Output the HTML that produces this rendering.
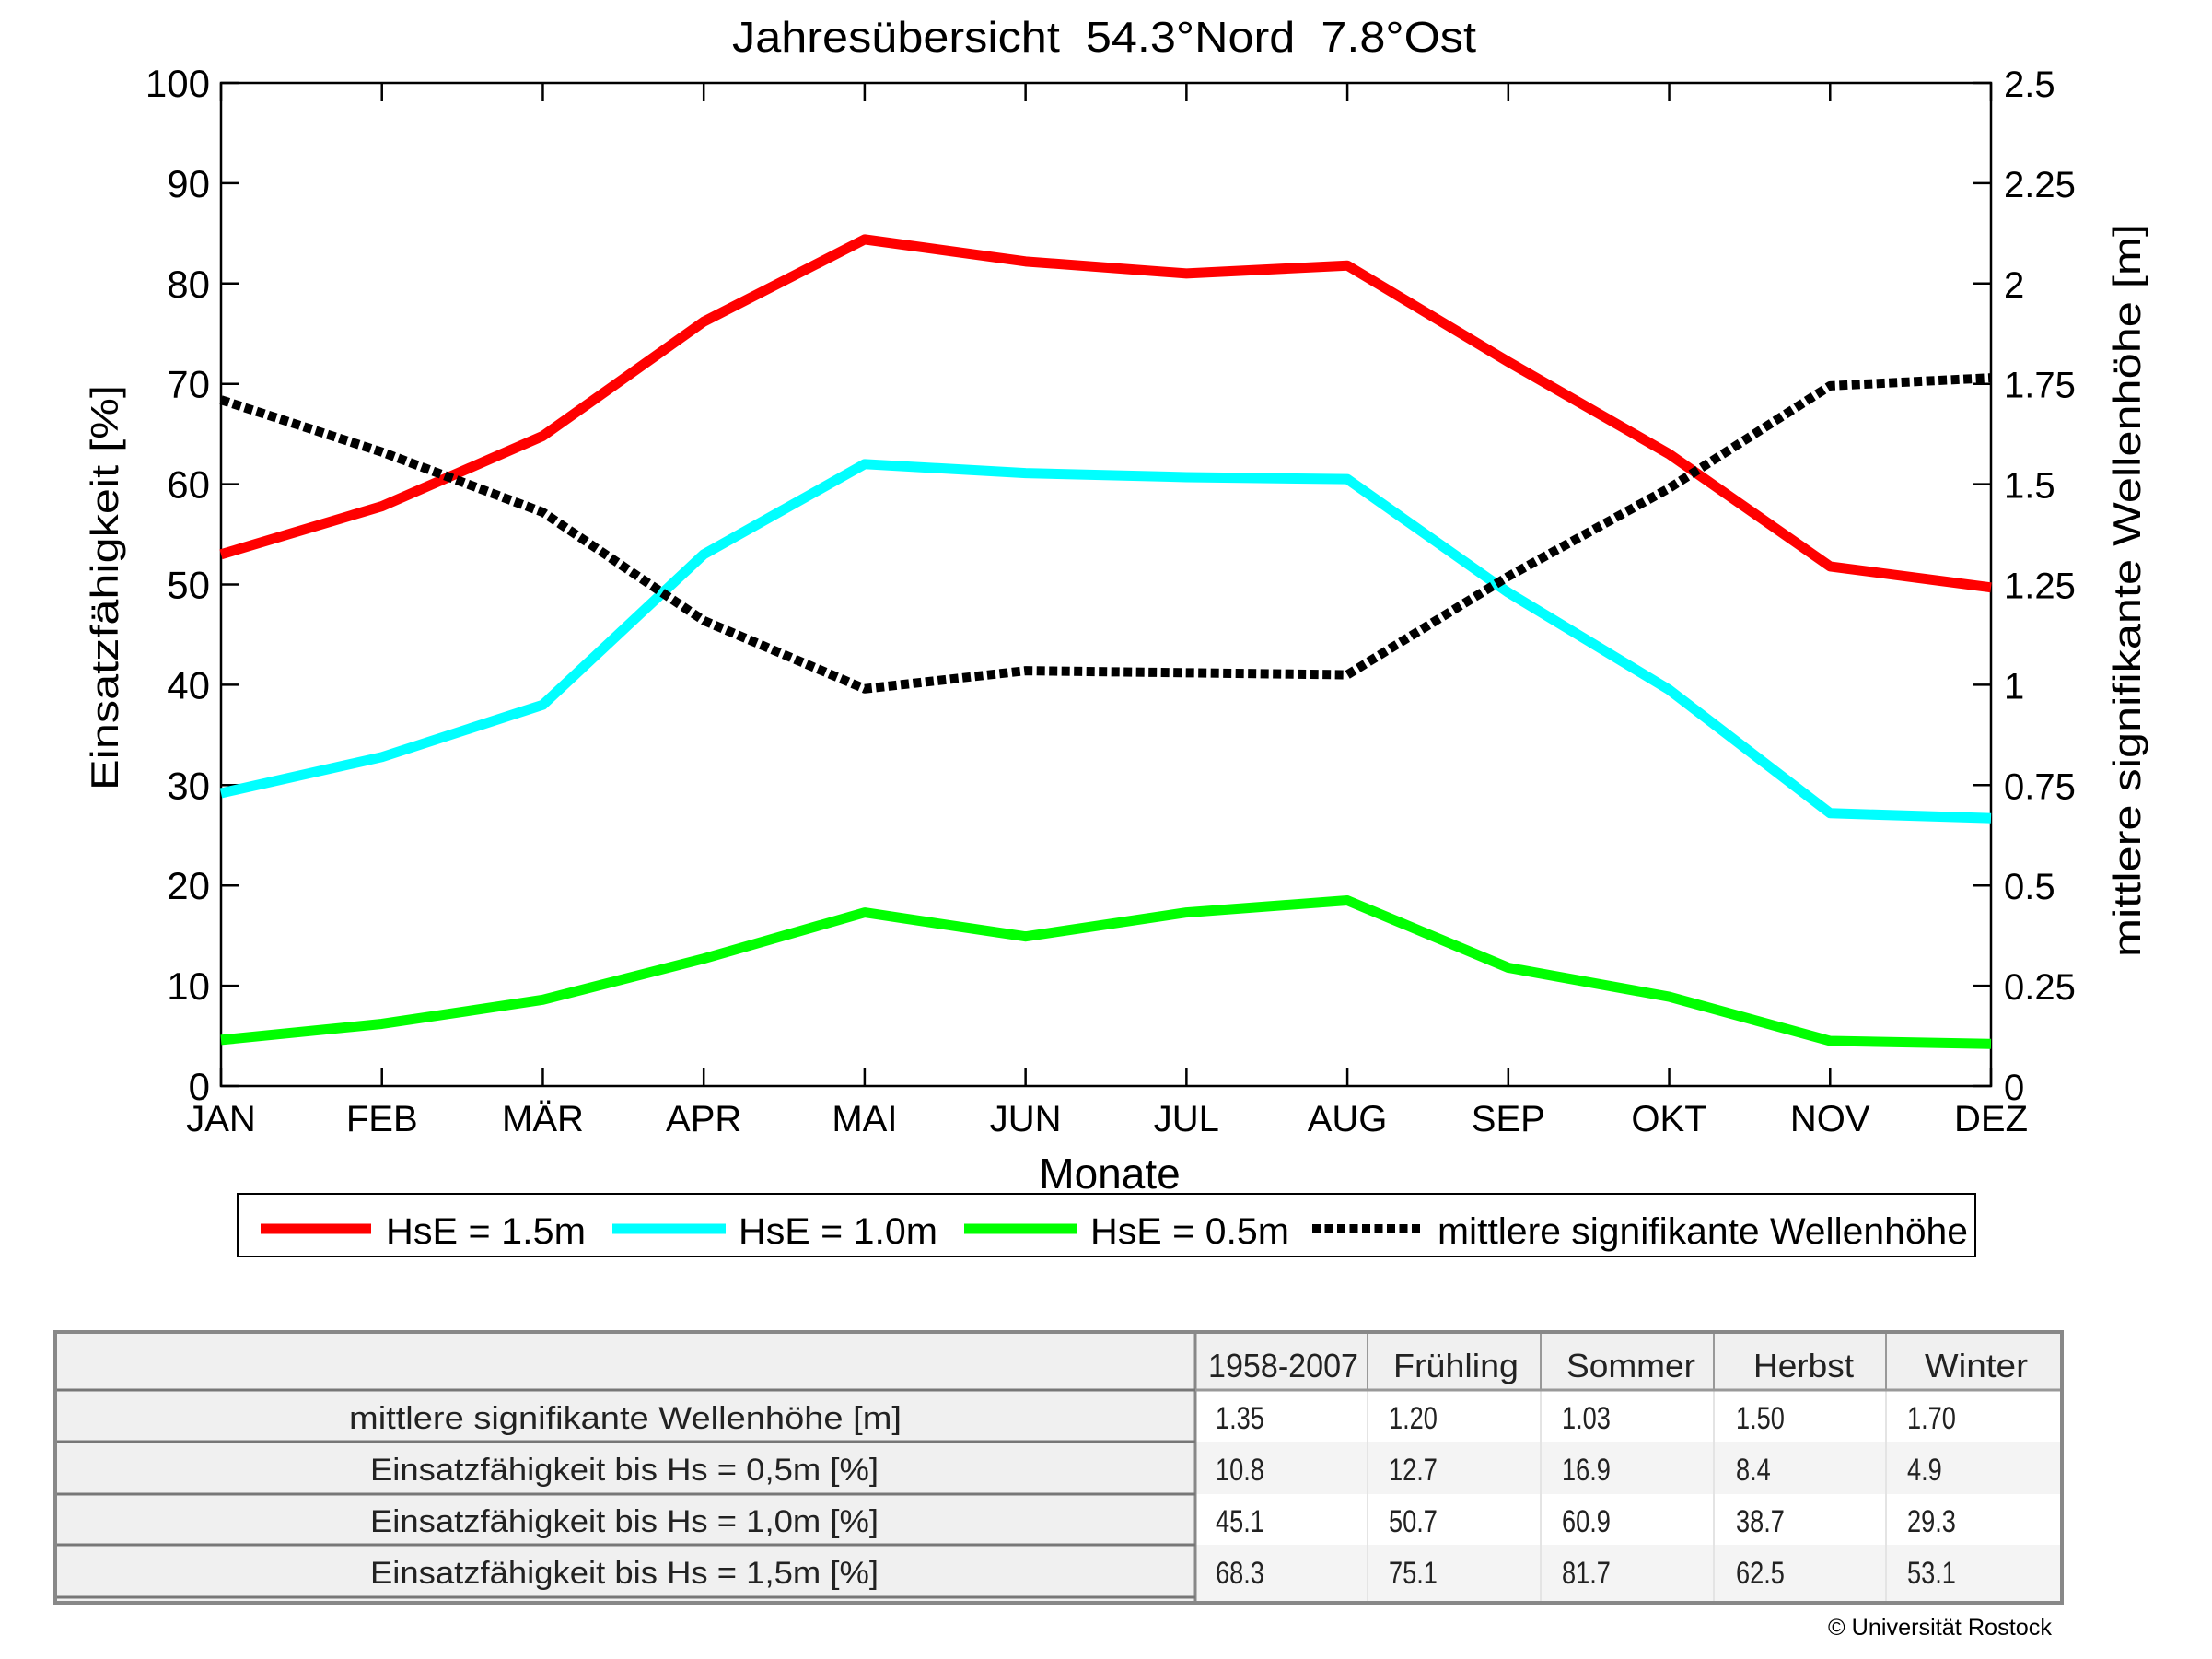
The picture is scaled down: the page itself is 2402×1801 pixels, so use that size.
<!DOCTYPE html>
<html><head><meta charset="utf-8"><style>
html,body{margin:0;padding:0;background:#fff;}
svg{display:block;font-family:"Liberation Sans",sans-serif;}
</style></head><body>
<svg id="chart" width="2402" height="1801" viewBox="0 0 2402 1801" xmlns="http://www.w3.org/2000/svg">
<rect x="0" y="0" width="2402" height="1801" fill="#fff"/>
<text x="1199" y="56" font-size="46" text-anchor="middle" textLength="808" lengthAdjust="spacingAndGlyphs" xml:space="preserve">Jahresübersicht  54.3°Nord  7.8°Ost</text>
<g id="axes"></g>
<g id="series"></g>
<text transform="translate(128,638) rotate(-90)" font-size="42" text-anchor="middle" textLength="440" lengthAdjust="spacingAndGlyphs">Einsatzfähigkeit [%]</text>
<text transform="translate(2324,641) rotate(-90)" font-size="42" text-anchor="middle" textLength="796" lengthAdjust="spacingAndGlyphs">mittlere signifikante Wellenhöhe [m]</text>
<text x="1205" y="1290" font-size="46" text-anchor="middle">Monate</text>
<g>
<rect x="258" y="1296" width="1887" height="68" fill="#fff" stroke="#000" stroke-width="2"/>
<line x1="283" y1="1334" x2="403" y2="1334" stroke="#ff0000" stroke-width="11"/>
<text x="419" y="1350" font-size="40" textLength="217" lengthAdjust="spacingAndGlyphs">HsE = 1.5m</text>
<line x1="665" y1="1334" x2="788" y2="1334" stroke="#00ffff" stroke-width="11"/>
<text x="802" y="1350" font-size="40" textLength="216" lengthAdjust="spacingAndGlyphs">HsE = 1.0m</text>
<line x1="1047" y1="1334" x2="1170" y2="1334" stroke="#00ff00" stroke-width="11"/>
<text x="1184" y="1350" font-size="40" textLength="216" lengthAdjust="spacingAndGlyphs">HsE = 0.5m</text>
<line x1="1425" y1="1334" x2="1545" y2="1334" stroke="#000" stroke-width="10" stroke-dasharray="9 4.5"/>
<text x="1561" y="1350" font-size="40" textLength="576" lengthAdjust="spacingAndGlyphs">mittlere signifikante Wellenhöhe</text>
</g>
<g id="table"></g>
<text x="2228" y="1775" font-size="25" text-anchor="end" textLength="243" lengthAdjust="spacingAndGlyphs">© Universität Rostock</text>
</svg>
<script>
const months = ["JAN","FEB","MÄR","APR","MAI","JUN","JUL","AUG","SEP","OKT","NOV","DEZ"];
const hse15 = [53.0,57.8,64.8,76.2,84.4,82.2,81.0,81.8,72.2,63.0,51.8,49.7];
const hse10 = [29.2,32.8,38.0,53.0,62.0,61.1,60.7,60.5,49.2,39.5,27.2,26.7];
const hse05 = [4.6,6.2,8.6,12.7,17.3,14.9,17.3,18.5,11.8,8.9,4.5,4.2];
const waveHeight = [1.71,1.58,1.43,1.16,0.99,1.035,1.03,1.025,1.27,1.49,1.745,1.765];
const leftTicks = [0,10,20,30,40,50,60,70,80,90,100];
const rightTicks = ["0","0.25","0.5","0.75","1","1.25","1.5","1.75","2","2.25","2.5"];
const tableHeader = ["1958-2007","Frühling","Sommer","Herbst","Winter"];
const tableRowLabels = ["mittlere signifikante Wellenhöhe [m]","Einsatzfähigkeit bis Hs = 0,5m [%]","Einsatzfähigkeit bis Hs = 1,0m [%]","Einsatzfähigkeit bis Hs = 1,5m [%]"];
const tableValues = [["1.35","1.20","1.03","1.50","1.70"],["10.8","12.7","16.9"," 8.4"," 4.9"],["45.1","50.7","60.9","38.7","29.3"],["68.3","75.1","81.7","62.5","53.1"]];

const NS="http://www.w3.org/2000/svg";
const L=240,R=2162,T=90,B=1179;
const x=i=>L+(R-L)*i/(months.length-1);
const y=v=>B-(B-T)*v/100;
const y2=v=>B-(B-T)*v/2.5;
function mk(tag,attrs,parent,text){const e=document.createElementNS(NS,tag);for(const k in attrs)e.setAttribute(k,attrs[k]);if(text!==undefined)e.textContent=text;parent.appendChild(e);return e;}
const axes=document.getElementById('axes');
let f=mk('rect',{x:L,y:T,width:R-L,height:B-T,fill:'none',stroke:'#000','stroke-width':2.5},axes);


leftTicks.forEach((v,i)=>{
  const yy=y(v);
  mk('line',{x1:L,y1:yy,x2:L+20,y2:yy,stroke:'#000','stroke-width':2.5},axes);
  mk('line',{x1:R,y1:yy,x2:R-20,y2:yy,stroke:'#000','stroke-width':2.5},axes);
  const t=mk('text',{x:L-12,y:yy+15,'font-size':42,'text-anchor':'end'},axes,String(v));
  
  
  const t2=mk('text',{x:R+14,y:yy+15,'font-size':40},axes,rightTicks[i]);
  
  
});
months.forEach((m,i)=>{
  const xx=x(i);
  mk('line',{x1:xx,y1:B,x2:xx,y2:B-20,stroke:'#000','stroke-width':2.5},axes);
  mk('line',{x1:xx,y1:T,x2:xx,y2:T+20,stroke:'#000','stroke-width':2.5},axes);
  const t=mk('text',{x:xx,y:1228,'font-size':40,'text-anchor':'middle'},axes,m);
  
  
});
const ser=document.getElementById('series');
function line(vals,sc,color,name,dash){
  const pts=vals.map((v,i)=>x(i)+','+sc(v)).join(' ');
  const a={points:pts,fill:'none',stroke:color,'stroke-width':dash?10:11,'stroke-linejoin':'round'};
  if(dash)a['stroke-dasharray']=dash;
  const p=mk('polyline',a,ser);
  
  
}
line(hse15,y,'#ff0000','line-hse-1-5');
line(hse10,y,'#00ffff','line-hse-1-0');
line(hse05,y,'#00ff00','line-hse-0-5');
line(waveHeight,y2,'#000','line-wave-height','9 4.5');

// table
const tb=document.getElementById('table');
const cols=[60,1298,1485,1673,1861,2048,2239];
const rows=[1446,1509,1565,1622,1677,1740];
mk('rect',{x:60,y:1446,width:2179,height:63,fill:'#f0f0f0'},tb);
for(let r=0;r<4;r++){
  mk('rect',{x:60,y:rows[r+1],width:1238,height:rows[r+2]-rows[r+1],fill:'#f0f0f0'},tb);
  mk('rect',{x:1298,y:rows[r+1],width:941,height:rows[r+2]-rows[r+1],fill:r%2?'#f4f4f4':'#fff'},tb);
}
cols.slice(1,6).forEach(cx=>mk('line',{x1:cx,y1:1446,x2:cx,y2:1740,stroke:'#e4e4e4','stroke-width':2},tb));
mk('line',{x1:1298,y1:1446,x2:1298,y2:1740,stroke:'#888','stroke-width':3},tb);
[1485,1673,1861,2048].forEach(cx=>mk('line',{x1:cx,y1:1446,x2:cx,y2:1509,stroke:'#999','stroke-width':2},tb));
rows.slice(1,5).forEach(ry=>{mk('line',{x1:60,y1:ry,x2:1298,y2:ry,stroke:'#777','stroke-width':3},tb);});
mk('line',{x1:1298,y1:1509,x2:2239,y2:1509,stroke:'#999','stroke-width':3},tb);
mk('line',{x1:60,y1:1734,x2:1298,y2:1734,stroke:'#777','stroke-width':3},tb);
mk('rect',{x:60,y:1446,width:2179,height:294,fill:'none',stroke:'#888','stroke-width':4},tb);
const hx=[[1312,163],[1513,136],[1701,140],[1904,109],[2090,112]];
tableHeader.forEach((h,i)=>{
  const t=mk('text',{x:hx[i][0],y:1495,'font-size':36,textLength:hx[i][1],lengthAdjust:'spacingAndGlyphs',fill:'#222'},tb,h);
  
  
});
const dx=[1320,1508,1696,1885,2071];
const by=[1551,1607,1663,1719];
tableRowLabels.forEach((lab,r)=>{
  const w=r===0?600:552, x0=r===0?379:402;
  const t=mk('text',{x:x0,y:by[r],'font-size':34,textLength:w,lengthAdjust:'spacingAndGlyphs',fill:'#222'},tb,lab);
  
  
  tableValues[r].forEach((v,c)=>{
    const tv=mk('text',{x:dx[c],y:by[r],'font-size':34,'xml:space':'preserve',fill:'#222',transform:'translate('+dx[c]+',0) scale(0.8,1) translate('+(-dx[c])+',0)'},tb,v);
    
    
  });
});
</script>
</body></html>
